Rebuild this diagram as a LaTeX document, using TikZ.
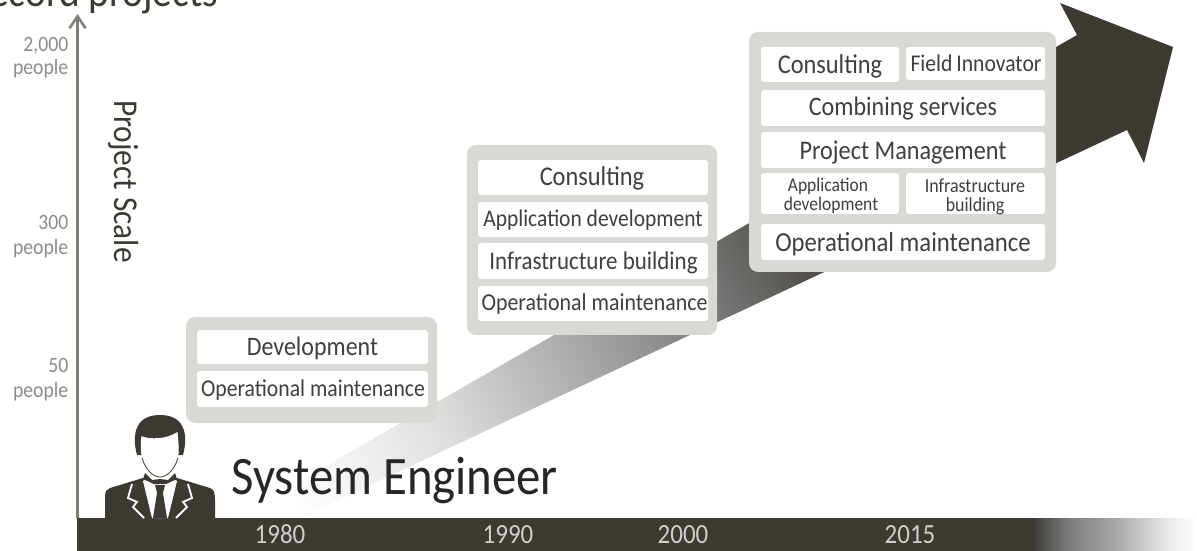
\documentclass[tikz,border=0pt]{standalone}
\usepackage{fontspec}
\setmainfont[FakeStretch=0.9]{Carlito}
\usetikzlibrary{arrows.meta}
\definecolor{inkdark}{HTML}{3D3A34}
\definecolor{panelgrey}{HTML}{D8D8D4}
\definecolor{axisgrey}{HTML}{7F7F78}
\definecolor{labelgrey}{HTML}{8C8C88}
\definecolor{boxtext}{HTML}{3F3F3F}
\definecolor{yeartext}{HTML}{CFCFCA}
\pgfdeclarehorizontalshading{arrowfade}{800bp}{color(0bp)=(white); color(60bp)=(white); color(216bp)=(black!12!white); color(337bp)=(black!28!white); color(517bp)=(black!52!white); color(620bp)=(inkdark!88!white); color(700bp)=(inkdark); color(1150bp)=(inkdark)}
\pgfdeclarehorizontalshading{barfade}{40bp}{color(0bp)=(inkdark); color(5bp)=(inkdark); color(40bp)=(black!52!white); color(90bp)=(black!33!white); color(140bp)=(black!9!white); color(170bp)=(white)}
\tikzset{
  x=1bp,y=-1bp,
  panel/.style={fill=panelgrey,rounded corners=9bp},
  cell/.style={fill=white,rounded corners=3bp},
  celltext/.style={text=boxtext,inner sep=0pt,anchor=base,align=center},
  scalelabel/.style={text=labelgrey,inner sep=0pt,anchor=base east,font=\fontsize{22}{22}\selectfont},
  yearlabel/.style={text=yeartext,inner sep=0pt,anchor=base,font=\fontsize{27.8}{27.8}\selectfont},
}
\newcommand{\fs}[1]{\fontsize{#1}{#1}\selectfont}
\begin{document}
\begin{tikzpicture}
\useasboundingbox (0,0) rectangle (1197,551);
\clip (0,0) rectangle (1197,551);
% big arrow
\begin{scope}
  \clip (235,518) -- (1077,35) -- (1060,3) -- (1173,47) -- (1144,163) -- (1127,130) -- (300,518) -- cycle;
  \node[rotate=27,anchor=west,inner sep=0pt] (fade) at (235,518) {\pgfuseshading{arrowfade}};
\end{scope}
% time bar
\node[anchor=north west,inner sep=0pt] (barend) at (1027,518) {\pgfuseshading{barfade}};
\fill[inkdark] (77,518) rectangle (1029,551);
% axis
\coordinate (axisfoot) at (77.5,518);
\coordinate (axistop) at (77.5,14);
\draw[axisgrey,line width=2.5bp,-{Straight Barb[length=12bp,width=16bp]}] (axisfoot) -- (axistop);
% title cut off by the picture's top
\node[anchor=base west,inner sep=0pt,text=inkdark,font=\fs{44}] (title) at (-11,7) {ecord projects};
% scale labels
\node[scalelabel] (n2000) at (68.5,52) {2,000};
\node[scalelabel] (p2000) at (68.5,75) {people};
\node[scalelabel] (n300) at (68.5,230) {300};
\node[scalelabel] (p300) at (68.5,255) {people};
\node[scalelabel] (n50) at (68.5,373) {50};
\node[scalelabel] (p50) at (68.5,397) {people};
\node[rotate=-90,anchor=base west,inner sep=0pt,text=inkdark,font=\fs{35}] (scale) at (114,100) {Project Scale};
% years
\node[yearlabel] (y1980) at (280,543) {1980};
\node[yearlabel] (y1990) at (508,543) {1990};
\node[yearlabel] (y2000) at (683,543) {2000};
\node[yearlabel] (y2015) at (910,543) {2015};
% engineer
\fill[inkdark] (105,518) -- (105,497) .. controls (105,491) and (107,489) .. (110,488) -- (143,478) -- (177,478) -- (210,488) .. controls (213,489) and (215,491) .. (215,500) -- (215,518) -- cycle;
\fill[white] (143,481) -- (152,476) -- (168,476) -- (177,481) -- (168,518) -- (152,518) -- cycle;
\fill[inkdark] (155,485) -- (165,485) -- (163,493) -- (167,518) -- (153,518) -- (157,493) -- cycle;
\draw[white,line width=1.8bp,line join=miter] (132,484) -- (128,498) -- (137,502) -- (133,507) -- (144,518);
\draw[white,line width=1.8bp,line join=miter] (188,484) -- (192,498) -- (183,502) -- (187,507) -- (176,518);
\fill[inkdark] (137,455) .. controls (131,432) and (137,415) .. (160,415) .. controls (183,415) and (189,432) .. (183,455) -- (177,455) -- (143,455) -- cycle;
\draw[white,line width=1.2bp,fill=white] (142,437) .. controls (150,440) and (166,440) .. (177,433) .. controls (178,445) and (179,452) .. (177,459) .. controls (174,470) and (166,476) .. (160,476) .. controls (154,476) and (146,470) .. (143,459) .. controls (141,452) and (141,445) .. (142,437) -- cycle;
\draw[inkdark,line width=0.8bp] (142,458) .. controls (146,471) and (154,477) .. (160,477) .. controls (166,477) and (174,471) .. (178,458);
\fill[inkdark] (145,473) -- (152,480) -- (160,479) -- (168,480) -- (175,473) -- (177,479) -- (166,484) -- (154,484) -- (143,479) -- cycle;
\node[anchor=base west,inner sep=0pt,text=black!85,font=\fs{54.4}] (se) at (231,494) {System Engineer};
% panel 1
\fill[panel] (186,317) rectangle (437,423);
\fill[cell] (197,330) rectangle (428,364);
\fill[cell] (197,371) rectangle (428,407);
\node[celltext,font=\fs{26.7}] (d1) at (312.5,356) {Development};
\node[celltext,font=\fs{24.2}] (o1) at (313,396) {Operational maintenance};
% panel 2
\fill[panel] (467,145) rectangle (717,335);
\fill[cell] (478,160) rectangle (708,195);
\fill[cell] (478,202) rectangle (708,237);
\fill[cell] (478,243) rectangle (708,279);
\fill[cell] (478,286) rectangle (708,321);
\node[celltext,font=\fs{27.2}] (c2) at (592,186) {Consulting};
\node[celltext,font=\fs{24}] (a2) at (593,227) {Application development};
\node[celltext,font=\fs{25.6}] (i2) at (593.5,270) {Infrastructure building};
\node[celltext,font=\fs{24.4}] (o2) at (594.5,311) {Operational maintenance};
% panel 3
\fill[panel] (749,32) rectangle (1056,272);
\fill[cell] (761,47) rectangle (899,82);
\fill[cell] (906,47) rectangle (1045,80);
\fill[cell] (761,90) rectangle (1045,126);
\fill[cell] (761,132) rectangle (1045,168);
\fill[cell] (761,173) rectangle (899,214);
\fill[cell] (906,173) rectangle (1045,214);
\fill[cell] (761,224) rectangle (1045,260);
\node[celltext,font=\fs{27.2}] (c3) at (830,74) {Consulting};
\node[celltext,font=\fs{24.1}] (f3) at (976,72) {Field\,Innovator};
\node[celltext,font=\fs{26.8}] (m3) at (903,116) {Combining services};
\node[celltext,font=\fs{27}] (p3) at (903,160) {Project Management};
\node[celltext,font=\fs{19.5}] (a3) at (828,192) {Application};
\node[celltext,font=\fs{19.5}] (a3b) at (831,211) {development};
\node[celltext,font=\fs{20}] (i3) at (975,193) {Infrastructure};
\node[celltext,font=\fs{20}] (i3b) at (975,212) {building};
\node[celltext,font=\fs{27.6}] (o3) at (903,252) {Operational maintenance};
\end{tikzpicture}
\end{document}
